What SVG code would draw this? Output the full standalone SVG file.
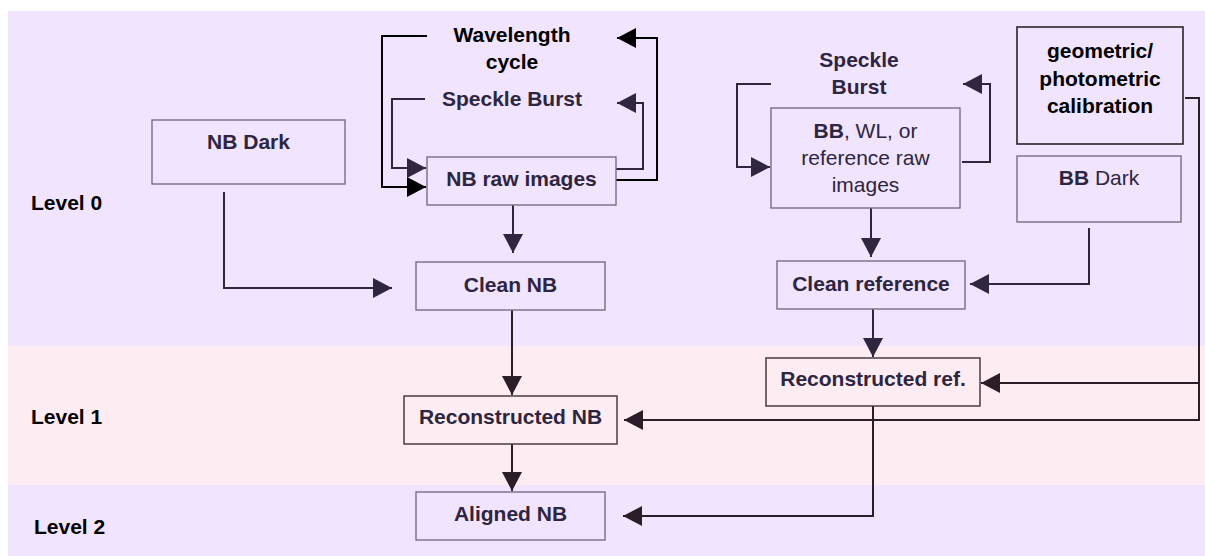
<svg xmlns="http://www.w3.org/2000/svg" width="1205" height="556" viewBox="0 0 1205 556">
  <style>
    text { font-family: "Liberation Sans", Arial, sans-serif; font-size: 21px; text-anchor: middle; fill: #2e2540; }
    .b { font-weight: bold; }
    .k { fill: #000; }
    .lvl { text-anchor: start; font-weight: bold; fill: #000; }
    .box { fill: none; stroke: #7a6b8a; stroke-width: 1.4; }
    .box-dark { fill: none; stroke: #2a2228; stroke-width: 1.6; }
    .box-rec { fill: none; stroke: #4a3a46; stroke-width: 1.5; }
    .ln { fill: none; stroke: #30263f; stroke-width: 2; }
    .ln-k { fill: none; stroke: #000; stroke-width: 2; }
    .ln-r { fill: none; stroke: #2b1e29; stroke-width: 2; }
  </style>
  <defs>
    <marker id="ah" markerUnits="userSpaceOnUse" markerWidth="19" markerHeight="20" refX="19" refY="10" orient="auto">
      <path d="M0,0 L19,10 L0,20 z" fill="#30263f"/>
    </marker>
    <marker id="ah-k" markerUnits="userSpaceOnUse" markerWidth="19" markerHeight="20" refX="19" refY="10" orient="auto">
      <path d="M0,0 L19,10 L0,20 z" fill="#000"/>
    </marker>
    <marker id="ah-r" markerUnits="userSpaceOnUse" markerWidth="19" markerHeight="20" refX="19" refY="10" orient="auto">
      <path d="M0,0 L19,10 L0,20 z" fill="#2b1e29"/>
    </marker>
  </defs>

  <!-- processing level bands -->
  <g id="bands">
    <rect x="0" y="0" width="1205" height="556" fill="#ffffff"/>
    <rect x="8" y="11" width="1197" height="335" fill="#f1e4fe"/>
    <rect x="8" y="346" width="1197" height="139" fill="#fdedf3"/>
    <rect x="8" y="485" width="1197" height="71" fill="#f1e4fe"/>
    <text class="lvl" x="31" y="210">Level 0</text>
    <text class="lvl" x="31" y="424">Level 1</text>
    <text class="lvl" x="34" y="534">Level 2</text>
  </g>

  <!-- connectors -->
  <g id="connectors">
    <path class="ln" d="M224,192 V288 H392" marker-end="url(#ah)"/>
    <path class="ln" d="M513,205 V253" marker-end="url(#ah)"/>
    <path class="ln-k" d="M427,36 H382 V187 H426" marker-end="url(#ah-k)"/>
    <path class="ln-k" d="M616,180 H657 V38 H617" marker-end="url(#ah-k)"/>
    <path class="ln" d="M425,99 H392 V168 H426" marker-end="url(#ah)"/>
    <path class="ln" d="M616,169 H643 V103 H617" marker-end="url(#ah)"/>
    <path class="ln-r" d="M512,310 V395" marker-end="url(#ah-r)"/>
    <path class="ln-r" d="M512,444 V491" marker-end="url(#ah-r)"/>
    <path class="ln" d="M771,84 H737 V167 H770" marker-end="url(#ah)"/>
    <path class="ln" d="M962,162 H990 V84 H963" marker-end="url(#ah)"/>
    <path class="ln" d="M871,208 V257" marker-end="url(#ah)"/>
    <path class="ln" d="M1089,228 V284 H970" marker-end="url(#ah)"/>
    <path class="ln" d="M873,309 V357" marker-end="url(#ah)"/>
    <path class="ln-r" d="M1185,98 H1199 V420 H624" marker-end="url(#ah-r)"/>
    <path class="ln-r" d="M1199,383 H981" marker-end="url(#ah-r)"/>
    <path class="ln-r" d="M873,406 V516 H623" marker-end="url(#ah-r)"/>
  </g>

  <g id="nb-dark">
    <rect class="box" x="152" y="120" width="193" height="64"/>
    <text class="b" x="248.5" y="149">NB Dark</text>
  </g>

  <g id="wavelength-cycle">
    <text class="b k" x="512" y="41.5">Wavelength</text>
    <text class="b k" x="512" y="69">cycle</text>
  </g>

  <g id="nb-speckle-burst">
    <text class="b" x="512" y="106">Speckle Burst</text>
  </g>

  <g id="nb-raw">
    <rect class="box" x="427" y="157" width="189" height="48"/>
    <text class="b" x="521.5" y="186">NB raw images</text>
  </g>

  <g id="clean-nb">
    <rect class="box" x="416" y="262" width="189" height="48"/>
    <text class="b" x="510.5" y="292">Clean NB</text>
  </g>

  <g id="reconstructed-nb">
    <rect class="box-rec" x="404" y="396" width="213" height="48"/>
    <text class="b" x="510.5" y="424">Reconstructed NB</text>
  </g>

  <g id="aligned-nb">
    <rect class="box" x="416" y="492" width="189" height="48"/>
    <text class="b" x="510.5" y="521">Aligned NB</text>
  </g>

  <g id="ref-speckle-burst">
    <text class="b" x="859" y="67">Speckle</text>
    <text class="b" x="859" y="94">Burst</text>
  </g>

  <g id="ref-raw">
    <rect class="box" x="771" y="108" width="189" height="100"/>
    <text x="865.5" y="138"><tspan class="b">BB</tspan>, WL, or</text>
    <text x="865.5" y="165">reference raw</text>
    <text x="865.5" y="192">images</text>
  </g>

  <g id="clean-reference">
    <rect class="box" x="777" y="261" width="188" height="48"/>
    <text class="b" x="871" y="291">Clean reference</text>
  </g>

  <g id="reconstructed-ref">
    <rect class="box-rec" x="766" y="358" width="214" height="48"/>
    <text class="b" x="873" y="386">Reconstructed ref.</text>
  </g>

  <g id="calibration">
    <rect class="box-dark" x="1017" y="27" width="166" height="117"/>
    <text class="b k" x="1100" y="58">geometric/</text>
    <text class="b k" x="1100" y="85.5">photometric</text>
    <text class="b k" x="1100" y="113">calibration</text>
  </g>

  <g id="bb-dark">
    <rect class="box" x="1017" y="156" width="164" height="66"/>
    <text x="1099" y="185"><tspan class="b">BB</tspan> Dark</text>
  </g>
</svg>
